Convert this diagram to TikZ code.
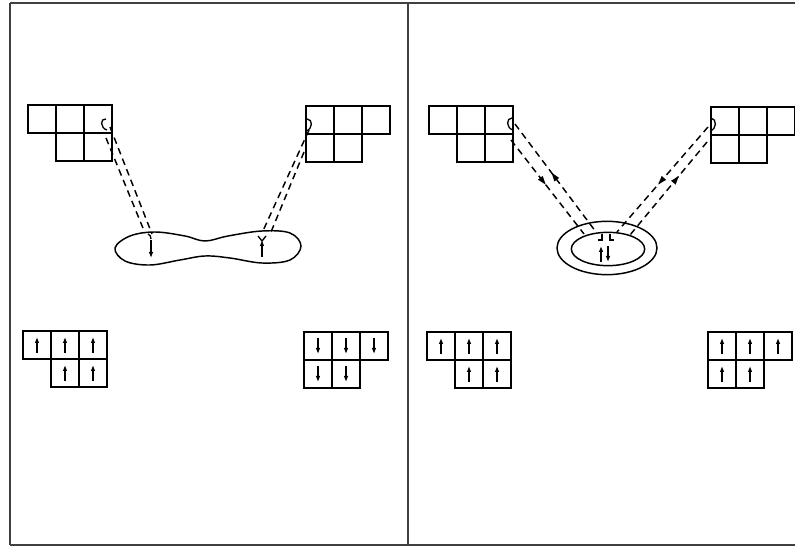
\documentclass[tikz,border=0pt]{standalone}
\usetikzlibrary{arrows.meta,shapes.geometric}
\begin{document}
\begin{tikzpicture}[
  x=0.75pt, y=-0.75pt,
  line width=1pt,
  cell/.style={draw,minimum width=21pt,minimum height=21pt,inner sep=0pt,line width=1.1pt},
  spin/.style={-{Latex[length=4.5pt,width=3.5pt]},line width=1.1pt},
  hop/.style={dash pattern=on 5pt off 3.5pt,line width=1.1pt},
  tip/.style={isosceles triangle,isosceles triangle stretches,fill,draw=none,sloped,
      inner sep=0pt,minimum height=6.5pt,minimum width=4.5pt},
  tipin/.style={tip,pos=0.42},
  tipout/.style={tip,pos=0.5,shape border rotate=180},
  ring/.style={draw,ellipse,inner sep=0pt,line width=1.1pt}
]
\useasboundingbox (0,0) rectangle (795,548);

% frame
\draw[line width=1.2pt,black!75] (10,3) -- (795,3);
\draw[line width=1.2pt,black!75] (10,545) -- (795,545);
\draw[line width=1.2pt,black!75] (10,3) -- (10,545);
\draw[line width=1.2pt,black!75] (408,3) -- (408,545);

% lattice blocks
\foreach \g/\gx/\gy/\off in {ga/28/105/1, gb/306/106/0, gc/23/331/1, gd/304/332/0,
                             ge/429/106/1, gf/711/107/0, gg/427/332/1, gh/708/332/0}{
  \foreach \i in {0,1,2}
    \node[cell] (\g-t\i) at (\gx+14+28*\i,\gy+14) {};
  \foreach \i in {0,1}
    \node[cell] (\g-b\i) at (\gx+14+28*\off+28*\i,\gy+42) {};
}

% spins
\foreach \g in {gc,gg,gh}
  \foreach \c in {t0,t1,t2,b0,b1}
    \draw[spin] ([yshift=-6pt]\g-\c.center) -- ([yshift=6pt]\g-\c.center);
\foreach \c in {t0,t1,t2,b0,b1}
  \draw[spin] ([yshift=6pt]gd-\c.center) -- ([yshift=-6pt]gd-\c.center);

% left panel: bond lobe
\draw[line width=1.1pt] plot[smooth cycle,tension=0.6] coordinates {
  (115,248) (130,236) (155,232) (185,236) (205,241) (228,236) (262,231)
  (290,233) (301,246) (290,260) (262,263) (230,258) (205,256) (180,260)
  (150,265) (125,261)};

\coordinate (pa1) at (110,127); \coordinate (qa1) at (152,234);
\coordinate (pa2) at (106,138); \coordinate (qa2) at (145,233);
\coordinate (pb1) at (309,130); \coordinate (qb1) at (262,233);
\coordinate (pb2) at (304,152); \coordinate (qb2) at (271,232);

\draw (107,130) .. controls (100,128) and (100,118) .. (106,119);
\draw (306,131) .. controls (313,129) and (313,119) .. (307,119);
\draw[hop] (pa1) -- (qa1);
\draw[hop] (pa2) -- (qa2);
\draw[hop] (pb1) -- (qb1);
\draw[hop] (pb2) -- (qb2);

\draw (148,234) .. controls (150,235) and (151,236) .. (151,239);
\draw[spin] (151,240) -- (151,258);
\draw (258,236) -- (262,241) -- (266,236);
\draw[spin] (262,257) -- (262,240);

% right panel: atom with shells
\node[ring,minimum width=75pt,minimum height=40pt] (outer) at (607,248) {};
\node[ring,minimum width=55pt,minimum height=25pt] (inner) at (608,249) {};

\coordinate (pc1) at (515,124); \coordinate (qc1) at (596,232);
\coordinate (pc2) at (511,140); \coordinate (qc2) at (584,234);
\coordinate (pd1) at (708,127); \coordinate (qd1) at (617,232);
\coordinate (pd2) at (707,142); \coordinate (qd2) at (630,235);

\draw (513,130) .. controls (506,128) and (506,118) .. (512,118);
\draw (710,131) .. controls (717,129) and (717,119) .. (711,118);
\draw[hop] (pc1) -- node[tipout] (ac1) {} (qc1);
\draw[hop] (pc2) -- node[tipin] (ac2) {} (qc2);
\draw[hop] (pd1) -- node[tipout] (ad1) {} (qd1);
\draw[hop] (pd2) -- node[tipin] (ad2) {} (qd2);

\draw (598,240) -- (602,240) -- (602,234);
\draw (610,234) -- (610,240) -- (614,240);
\draw[spin] (601,262) -- (601,246);
\draw[spin] (608,246) -- (608,262);
\end{tikzpicture}
\end{document}
